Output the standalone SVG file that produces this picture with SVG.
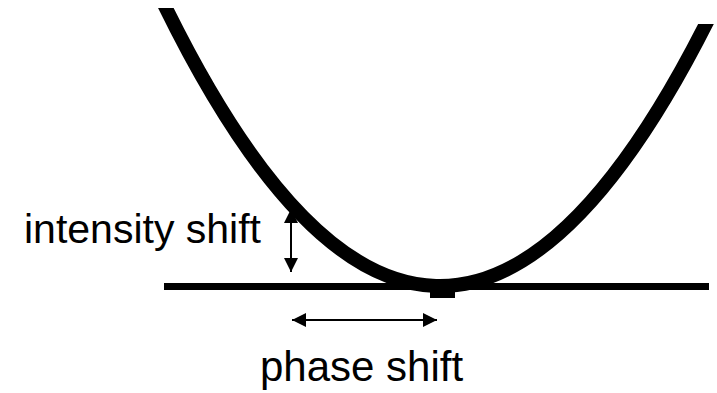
<svg xmlns="http://www.w3.org/2000/svg" width="717" height="393" viewBox="0 0 717 393">
<style>
.lbl{font-family:"Liberation Sans",Arial,sans-serif;font-size:41px;fill:#000}
.arr{stroke:#000;stroke-width:2;fill:none}
</style>
<defs>
<marker id="ah" viewBox="0 0 14 14" refX="14" refY="7" markerWidth="14" markerHeight="14" markerUnits="userSpaceOnUse" orient="auto-start-reverse">
<path d="M0,0 L14,7 L0,14 Z" fill="#000"/>
</marker>
<clipPath id="cc"><polygon points="0,8 440,8 440,24 717,24 717,393 0,393"/></clipPath>
</defs>
<rect width="717" height="393" fill="#fff"/>
<g id="curve">
<path d="M160,-4 Q436,568 712,12" fill="none" stroke="#000" stroke-width="14" clip-path="url(#cc)"/>
<rect x="430" y="290" width="25" height="8" fill="#000"/>
</g>
<g id="baseline">
<rect x="164" y="283" width="545" height="7" fill="#000"/>
</g>
<g id="connectors">
<line class="arr" x1="291" y1="209" x2="291" y2="272" marker-start="url(#ah)" marker-end="url(#ah)"/>
<line class="arr" x1="292" y1="320" x2="437" y2="320" marker-start="url(#ah)" marker-end="url(#ah)"/>
</g>
<g id="label-intensity">
<text class="lbl" x="24" y="243">intensity shift</text>
</g>
<g id="label-phase">
<text class="lbl" x="260" y="381" style="font-size:42px">phase shift</text>
</g>
</svg>
